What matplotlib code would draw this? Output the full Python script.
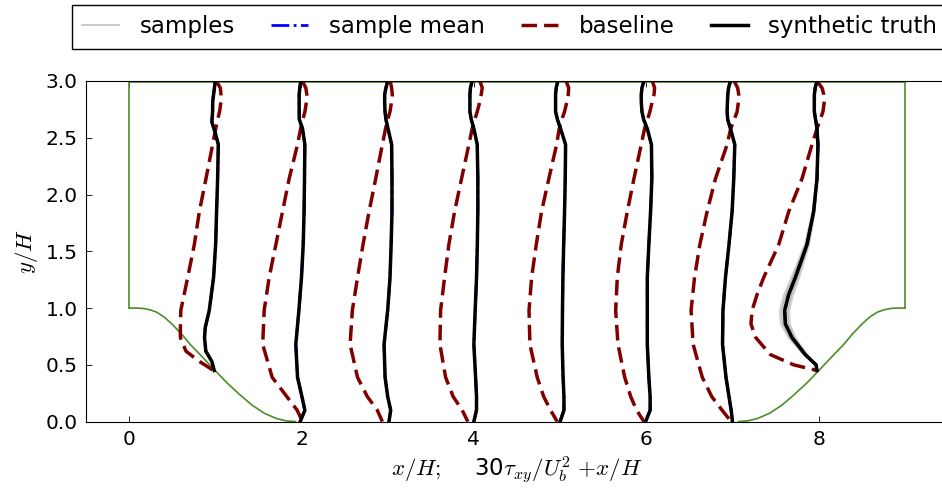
import matplotlib
matplotlib.use("Agg")
from matplotlib import pyplot as plt

plt.rcParams["mathtext.fontset"] = "cm"

# hill geometry (x/H, y/H)
hill_x = [0.0, 0.08, 0.16, 0.24, 0.32, 0.41, 0.50, 0.61, 0.71, 0.86, 1.00, 1.14, 1.29, 1.43, 1.57, 1.71, 1.82, 1.93]
hill_y = [1.0, 1.0, 0.997, 0.985, 0.964, 0.919, 0.857, 0.770, 0.679, 0.561, 0.448, 0.338, 0.233, 0.143, 0.073, 0.027, 0.007, 0.0]
top_y = 2.99
domain_right = 9.0

# stations x/H
stations = [1, 2, 3, 4, 5, 6, 7, 8]

# y levels of the profiles
y_mid = [3.0, 2.94, 2.88, 2.82, 2.73, 2.66, 2.58, 2.44, 2.14, 1.85, 1.56, 1.27, 0.98, 0.68, 0.39, 0.22, 0.10, 0.0]
y_st1 = [3.0, 2.94, 2.88, 2.82, 2.73, 2.64, 2.52, 2.44, 2.14, 1.85, 1.56, 1.27, 0.98, 0.83, 0.74, 0.62, 0.53, 0.45]
y_st8 = [3.0, 2.94, 2.88, 2.82, 2.73, 2.58, 2.44, 2.14, 1.85, 1.56, 1.27, 1.12, 0.98, 0.86, 0.74, 0.59, 0.50, 0.45]

# 30 * tau_xy / Ub^2, synthetic truth
truth_1 = [0.0, -0.01, -0.02, -0.03, -0.031, -0.04, 0.008, 0.035, 0.027, 0.015, 0.004, -0.02, -0.07, -0.116, -0.125, -0.11, -0.04, -0.012]
truth_2 = [-0.008, -0.02, -0.027, -0.027, -0.027, -0.025, 0.012, 0.039, 0.035, 0.03, 0.02, 0.0, -0.03, -0.066, -0.046, 0.005, 0.039, -0.015]
truth_3 = [0.0, -0.02, -0.035, -0.035, -0.031, -0.02, 0.004, 0.046, 0.05, 0.05, 0.04, 0.027, 0.0, -0.042, -0.03, 0.0, 0.035, 0.015]
truth_4 = [-0.02, -0.04, -0.046, -0.046, -0.046, -0.03, 0.0, 0.039, 0.046, 0.046, 0.04, 0.031, 0.015, 0.0, 0.02, 0.031, 0.03, 0.0]
truth_5 = [-0.025, -0.045, -0.052, -0.052, -0.052, -0.03, 0.006, 0.064, 0.06, 0.052, 0.042, 0.033, 0.028, 0.025, 0.035, 0.045, 0.045, 0.0]
truth_6 = [-0.027, -0.05, -0.058, -0.058, -0.05, -0.03, 0.012, 0.06, 0.065, 0.05, 0.03, 0.012, 0.012, 0.012, 0.03, 0.045, 0.045, -0.008]
truth_7 = [-0.023, -0.045, -0.054, -0.058, -0.062, -0.055, -0.023, 0.027, 0.015, -0.004, -0.04, -0.081, -0.11, -0.115, -0.075, -0.04, -0.015, 0.0]
truth_8 = [-0.019, -0.04, -0.05, -0.05, -0.05, -0.019, -0.008, -0.019, -0.058, -0.135, -0.27, -0.347, -0.394, -0.386, -0.309, -0.155, -0.03, -0.019]

# 30 * tau_xy / Ub^2, baseline
base_1 = [0.01, 0.058, 0.066, 0.066, 0.05, 0.02, -0.01, -0.031, -0.108, -0.185, -0.243, -0.32, -0.40, -0.405, -0.405, -0.34, -0.185, -0.02]
base_2 = [0.01, 0.05, 0.062, 0.058, 0.04, 0.015, -0.01, -0.046, -0.143, -0.22, -0.297, -0.375, -0.433, -0.45, -0.34, -0.17, -0.05, 0.012]
base_3 = [0.03, 0.045, 0.054, 0.045, 0.027, 0.0, -0.025, -0.062, -0.139, -0.216, -0.286, -0.35, -0.41, -0.436, -0.35, -0.236, -0.12, -0.062]
base_4 = [0.07, 0.097, 0.085, 0.07, 0.039, 0.01, -0.02, -0.058, -0.143, -0.224, -0.29, -0.34, -0.386, -0.394, -0.328, -0.24, -0.135, -0.07]
base_5 = [0.07, 0.1, 0.095, 0.08, 0.052, 0.02, -0.01, -0.04, -0.13, -0.215, -0.276, -0.33, -0.36, -0.35, -0.265, -0.19, -0.11, -0.033]
base_6 = [0.07, 0.097, 0.09, 0.07, 0.042, 0.015, -0.02, -0.058, -0.143, -0.22, -0.29, -0.336, -0.355, -0.328, -0.25, -0.18, -0.112, -0.027]
base_7 = [0.02, 0.06, 0.073, 0.07, 0.054, 0.02, -0.02, -0.062, -0.197, -0.294, -0.378, -0.44, -0.48, -0.456, -0.35, -0.24, -0.12, -0.015]
base_8 = [-0.019, 0.039, 0.06, 0.066, 0.05, -0.019, -0.077, -0.193, -0.347, -0.463, -0.637, -0.714, -0.772, -0.785, -0.73, -0.56, -0.29, -0.019]

# a few samples at x/H = 8 (the only station where they spread visibly)
sample_8a = [-0.019, -0.04, -0.05, -0.05, -0.05, -0.019, -0.008, -0.022, -0.066, -0.155, -0.31, -0.395, -0.445, -0.435, -0.345, -0.17, -0.03, -0.019]
sample_8b = [-0.019, -0.04, -0.05, -0.05, -0.05, -0.019, -0.008, -0.016, -0.050, -0.115, -0.23, -0.30, -0.345, -0.34, -0.275, -0.14, -0.03, -0.019]
sample_8c = [-0.019, -0.04, -0.05, -0.05, -0.05, -0.019, -0.008, -0.02, -0.062, -0.145, -0.29, -0.372, -0.42, -0.41, -0.327, -0.162, -0.03, -0.019]
sample_8d = [-0.019, -0.04, -0.05, -0.05, -0.05, -0.019, -0.008, -0.018, -0.054, -0.125, -0.25, -0.322, -0.368, -0.362, -0.29, -0.148, -0.03, -0.019]
sample_8e = [-0.019, -0.04, -0.05, -0.05, -0.05, -0.019, -0.008, -0.019, -0.058, -0.138, -0.275, -0.355, -0.40, -0.39, -0.312, -0.157, -0.03, -0.019]

truth = [truth_1, truth_2, truth_3, truth_4, truth_5, truth_6, truth_7, truth_8]
base = [base_1, base_2, base_3, base_4, base_5, base_6, base_7, base_8]
y_levels = [y_st1, y_mid, y_mid, y_mid, y_mid, y_mid, y_mid, y_st8]
samples_8 = [sample_8a, sample_8b, sample_8c, sample_8d, sample_8e]

green = "#4e8c2a"
dark_red = "#800000"
dash = (4.5, 2.0)

fig = plt.figure(figsize=(9.42, 4.96), dpi=100)
ax = fig.add_axes([0.0913, 0.150, 0.915, 0.6867])

# domain outline
right_hill_x = [domain_right - v for v in hill_x]
ax.plot(hill_x, hill_y, color=green, lw=1.2)
ax.plot(right_hill_x, hill_y, color=green, lw=1.2)
ax.plot([0, 0, domain_right, domain_right], [1.0, top_y, top_y, 1.0], color=green, lw=1.2)

for i, xs in enumerate(stations):
    yy = y_levels[i]
    # samples
    if xs == 8:
        for s in samples_8:
            ax.plot([xs + v for v in s], yy, color="gray", lw=2.0, alpha=0.35)
    ax.plot([xs + v for v in base[i]], yy, color=dark_red, lw=2.5, dashes=dash)
    ax.plot([xs + v for v in truth[i]], yy, color="blue", lw=2.0, linestyle="-.")
    ax.plot([xs + v for v in truth[i]], yy, color="black", lw=2.5)

# legend proxies
ax.plot([], [], color="#c0c0c0", lw=1.2, label="samples")
ax.plot([], [], color="blue", lw=2.0, linestyle="-.", label="sample mean")
ax.plot([], [], color=dark_red, lw=2.5, dashes=dash, label="baseline")
ax.plot([], [], color="black", lw=2.5, label="synthetic truth")

ax.set_xlim(-0.5, 9.5)
ax.set_ylim(0, 3.0)
ax.set_xticks([0, 2, 4, 6, 8])
ax.set_yticks([0.0, 0.5, 1.0, 1.5, 2.0, 2.5, 3.0])
ax.set_yticklabels(["0.0", "0.5", "1.0", "1.5", "2.0", "2.5", "3.0"])
ax.tick_params(direction="in", top=True, right=True, length=4, width=0.6,
               labelsize=14.5, pad=6)
ax.set_xlabel(r"$x/H;$    30$\tau_{xy}/U_b^2$ $+x/H$", fontsize=16.5, labelpad=4)
ax.set_ylabel(r"$y/H$", fontsize=16.5)

handles, labels = ax.get_legend_handles_labels()
leg = fig.legend(handles[-4:], labels[-4:], loc="upper left",
                 bbox_to_anchor=(0.0764, 0.99), ncol=4, fontsize=16.5,
                 fancybox=False, edgecolor="black", framealpha=1,
                 handlelength=1.6, handletextpad=0.9, columnspacing=1.6,
                 borderaxespad=0, borderpad=0.45)
leg.get_frame().set_linewidth(1.0)

fig.savefig("out.png", dpi=100)
